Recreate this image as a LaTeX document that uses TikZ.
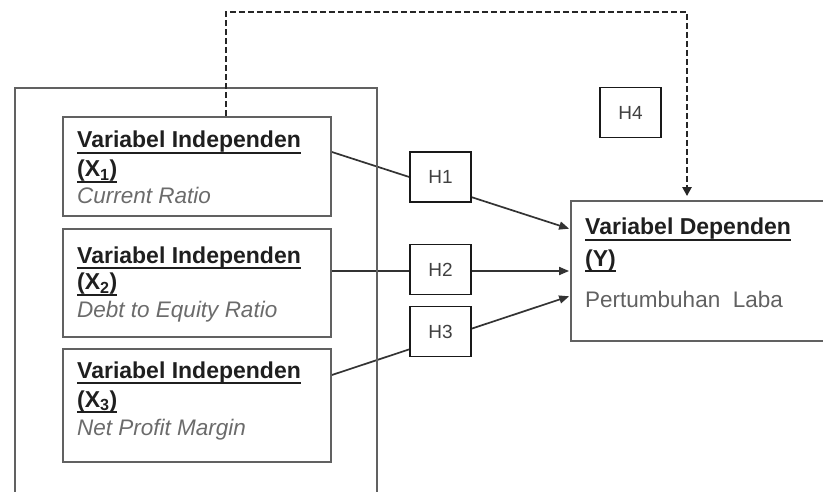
\documentclass[tikz,border=0pt]{standalone}
\usepackage{fontspec}
\setmainfont{Liberation Sans}
\usetikzlibrary{arrows.meta,backgrounds,calc}
\newsavebox\ulbox
\newcommand\myul[1]{\sbox\ulbox{#1}\rlap{\rule[-5.8pt]{\wd\ulbox}{1.8pt}}\usebox\ulbox}
\tikzset{
  titlefont/.style={font=\fontsize{23}{28}\selectfont\bfseries, text=black!88},
  subfont/.style={font=\fontsize{22.5}{27}\selectfont\itshape, text=black!58},
  plainfont/.style={font=\fontsize{22.5}{27}\selectfont, text=black!62},
  txt/.style={anchor=base west, inner sep=0pt},
  varbox/.style={draw=black!62, line width=1.8pt, minimum width=268pt, inner sep=0pt},
  framebox/.style={draw=black!62, line width=1.8pt, inner sep=0pt},
  hbox/.style={draw=black!90, line width=1.8pt, fill=white, minimum width=61pt, minimum height=50pt, inner sep=0pt, font=\fontsize{19}{22}\selectfont, text=black!75},
  conn/.style={draw=black!80, line width=1.7pt, -{Triangle[length=10pt,width=8pt]}, shorten >=1pt},
  dashconn/.style={draw=black!85, line width=2.6pt, dash pattern=on 6pt off 3pt, -{Triangle[length=9pt,width=9pt]}, shorten >=4pt}
}
\begin{document}
\begin{tikzpicture}[x=1pt,y=-1pt]
\useasboundingbox (0,0) rectangle (823,492);
% outer frame (bottom edge lies below the picture)
\node[framebox, minimum width=362pt, minimum height=410pt] (frame) at (196,293) {};
% independent variable boxes
\node[varbox, minimum height=99pt] (x1) at (197,166.5) {};
\node[varbox, minimum height=108pt] (x2) at (197,283) {};
\node[varbox, minimum height=113pt] (x3) at (197,405.5) {};
% dependent variable box (right edge lies beyond the picture)
\node[framebox, minimum width=255pt, minimum height=140pt] (y) at (698.5,271) {};
% texts
\node[txt,titlefont] (x1a) at (77,148) {\myul{Variabel Independen}};
\node[txt,titlefont] (x1b) at (77,177) {\myul{(X\textsubscript{1})}};
\node[txt,subfont] (x1c) at (77,204) {Current Ratio};
\node[txt,titlefont] (x2a) at (77,263) {\myul{Variabel Independen}};
\node[txt,titlefont] (x2b) at (77,290) {\myul{(X\textsubscript{2})}};
\node[txt,subfont] (x2c) at (77,317) {Debt to Equity Ratio};
\node[txt,titlefont] (x3a) at (77,378) {\myul{Variabel Independen}};
\node[txt,titlefont] (x3b) at (77,407) {\myul{(X\textsubscript{3})}};
\node[txt,subfont] (x3c) at (77,435) {Net Profit Margin};
\node[txt,titlefont] (ya) at (585,235) {\myul{Variabel Dependen}};
\node[txt,titlefont] (yb) at (585,266) {\myul{(Y)}};
\node[txt,plainfont] (yc) at (585,308) {Pertumbuhan\ \ Laba};
% hypothesis boxes
\node[hbox] (h1) at (440.5,177) {H1};
\node[hbox] (h2) at (440.5,269.5) {H2};
\node[hbox] (h3) at (440.5,331.5) {H3};
\node[hbox] (h4) at (630.5,112.5) {H4};
% connectors (behind the hypothesis boxes)
\begin{scope}[on background layer]
\draw[conn] ([yshift=14.5pt]x1.east) -- ([yshift=42pt]y.west);
\draw[conn] ([yshift=12pt]x2.east) -- ([yshift=0pt]y.west);
\draw[conn] ([yshift=30.5pt]x3.east) -- ([yshift=-25pt]y.west);
\end{scope}
\coordinate (top) at (687,12);
\draw[dashconn] ([xshift=29pt]x1.north) |- (top) -- (y.north -| top);
\end{tikzpicture}
\end{document}
